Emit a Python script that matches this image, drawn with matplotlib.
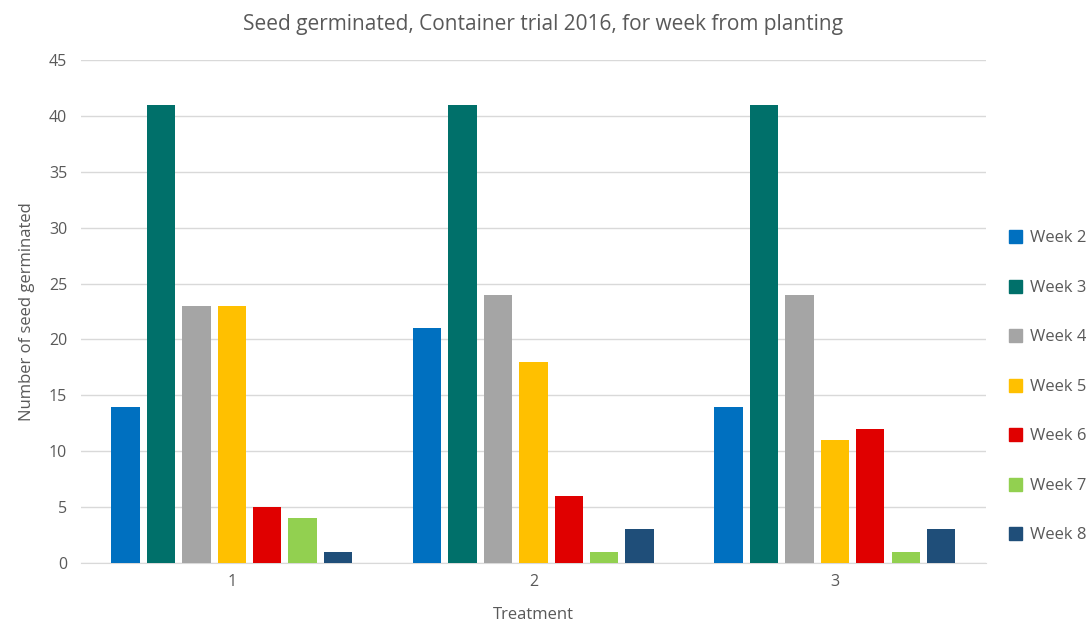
import numpy as np
import matplotlib
matplotlib.use('Agg')
import matplotlib.pyplot as plt
from matplotlib.patches import Patch

plt.rcParams['font.family'] = ['Open Sans', 'DejaVu Sans']

treatments = ['1', '2', '3']
weeks = ['Week 2', 'Week 3', 'Week 4', 'Week 5', 'Week 6', 'Week 7', 'Week 8']
counts = [
    [14, 21, 14],  # week 2
    [41, 41, 41],  # week 3
    [23, 24, 24],  # week 4
    [23, 18, 11],  # week 5
    [5, 6, 12],    # week 6
    [4, 1, 1],     # week 7
    [1, 3, 3],     # week 8
]
colors = ['#0070c0', '#00706a', '#a5a5a5', '#ffc000', '#e00000', '#92d050', '#1f4e79']

txt = '#595959'
fig = plt.figure(figsize=(10.86, 6.26), dpi=100)
ax = fig.add_axes([0.0746, 0.1006, 0.833, 0.8035])

x = np.arange(1, len(treatments) + 1)
step = 0.1175
width = 0.094
for i, (wk, vals) in enumerate(zip(weeks, counts)):
    ax.bar(x + (i - 3) * step, vals, width, color=colors[i], label=wk, zorder=3)

ax.set_xlim(0.5, 3.5)
ax.set_ylim(0, 45)
ax.set_yticks(np.arange(0, 46, 5))
ax.set_xticks(x)
ax.set_xticklabels(treatments)
ax.grid(axis='y', color='#d9d9d9', linewidth=1, zorder=0)
for s in ['top', 'right', 'left']:
    ax.spines[s].set_visible(False)
ax.spines['bottom'].set_color('#d9d9d9')
ax.tick_params(length=0, colors=txt, labelsize=11.5, pad=8)
ax.tick_params(axis='y', pad=10)

ax.set_xlabel('Treatment', color=txt, fontsize=12, labelpad=12)
ax.set_ylabel('Number of seed germinated', color=txt, fontsize=12, labelpad=10)
fig.suptitle('Seed germinated, Container trial 2016, for week from planting',
             color=txt, fontsize=15, y=0.978)

handles = [Patch(color=c) for c in colors]
leg = fig.legend(handles, weeks, loc='center left', bbox_to_anchor=(0.915, 0.382),
                 frameon=False, fontsize=12, labelspacing=2.0,
                 handlelength=0.8, handleheight=0.8, handletextpad=0.5)
for t in leg.get_texts():
    t.set_color(txt)

plt.savefig('out.png', dpi=100)
